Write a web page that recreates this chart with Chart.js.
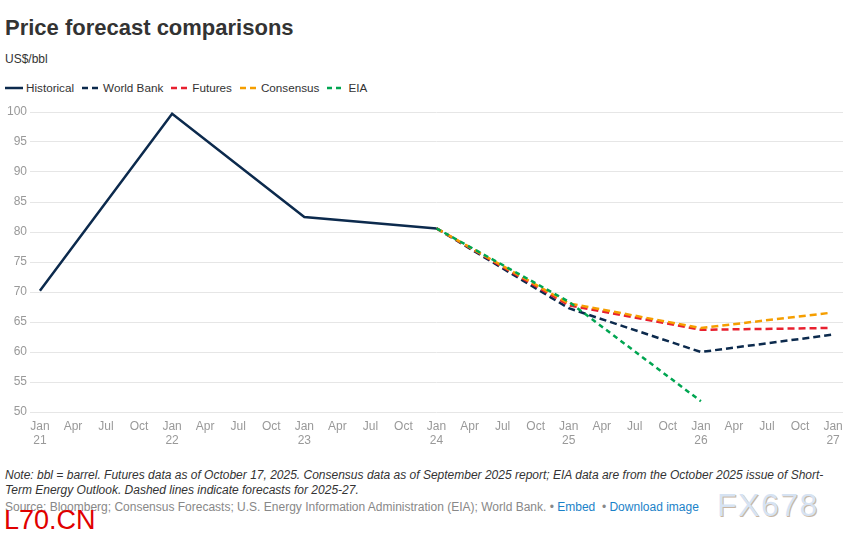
<!DOCTYPE html>
<html>
<head>
<meta charset="utf-8">
<script src="https://cdn.jsdelivr.net/npm/chart.js@4"></script>
<style>
  html, body { margin:0; padding:0; background:#fff; }
  body { width:846px; height:541px; position:relative; overflow:hidden; font-family:"Liberation Sans", Arial, sans-serif; color:#333; }
  .abs { position:absolute; white-space:nowrap; }
  #title { left:5px; top:15px; font-size:22px; font-weight:bold; color:#333; }
  #sub { left:5px; top:52px; font-size:12px; color:#333; }
  #legend { left:5px; top:81px; font-size:11.7px; color:#333; display:flex; align-items:center; }
  #legend .item { display:flex; align-items:center; margin-right:8px; }
  #legend svg { margin-right:3px; }
  #wrap { position:absolute; left:0; top:100px; width:846px; height:350px; }
  #note { left:5px; top:468px; font-size:12px; font-style:italic; color:#333; line-height:15px; }
  #source { left:5px; top:500px; font-size:12px; color:#888; }
  #source a { color:#1a82c8; text-decoration:none; }
  #wm1 { left:4px; top:505px; font-size:27px; color:#e00000; }
  #wm2 { left:717px; top:487px; font-size:32px; color:#d6e3f3; letter-spacing:1.5px; text-shadow:1px 1px 0 #c8b6a4; }
</style>
</head>
<body>
<div id="title" class="abs">Price forecast comparisons</div>
<div id="sub" class="abs">US$/bbl</div>
<div id="legend" class="abs"></div>
<div id="wrap"><canvas id="c" width="846" height="350"></canvas></div>
<div id="note" class="abs">Note: bbl = barrel. Futures data as of October 17, 2025. Consensus data as of September 2025 report; EIA data are from the October 2025 issue of Short-<br>Term Energy Outlook. Dashed lines indicate forecasts for 2025-27.</div>
<div id="source" class="abs">Source: Bloomberg; Consensus Forecasts; U.S. Energy Information Administration (EIA); World Bank. • <a>Embed</a> &nbsp;• <a>Download image</a></div>
<div id="wm1" class="abs">L70.CN</div>
<div id="wm2" class="abs">FX678</div>
<script>
// Tick labels every 3 months from Jan 2021 to Jan 2027 (x = months since Jan 2021)
const tickLabels = [["Jan","21"],"Apr","Jul","Oct",["Jan","22"],"Apr","Jul","Oct",["Jan","23"],"Apr","Jul","Oct",["Jan","24"],"Apr","Jul","Oct",["Jan","25"],"Apr","Jul","Oct",["Jan","26"],"Apr","Jul","Oct",["Jan","27"]];
const yTicks = [50,55,60,65,70,75,80,85,90,95,100];

const historicalX = [0, 12, 24, 36];
const historicalY = [70.2, 99.7, 82.5, 80.6];
const worldBankX = [36, 48, 60, 72];
const worldBankY = [80.6, 67.3, 60.0, 62.9];
const futuresX = [36, 48, 60, 71.6];
const futuresY = [80.6, 67.8, 63.7, 64.0];
const consensusX = [36, 48, 60, 71.6];
const consensusY = [80.6, 68.1, 64.0, 66.5];
const eiaX = [36, 48, 60];
const eiaY = [80.6, 68.4, 51.8];

const names = ["Historical","World Bank","Futures","Consensus","EIA"];
const colors = ["#0c2a4d","#0c2a4d","#e8202f","#f59e00","#00a551"];
const dashes = [[],[7,4],[7,4],[7,4],[5,4]];

const pts = (xs, ys) => xs.map((x,i)=>({x:x, y:ys[i]}));
const series = [pts(historicalX,historicalY), pts(worldBankX,worldBankY), pts(futuresX,futuresY), pts(consensusX,consensusY), pts(eiaX,eiaY)];

// legend
const lg = document.getElementById('legend');
names.forEach((n,i)=>{
  const d = document.createElement('div'); d.className='item';
  const da = dashes[i].length ? 'stroke-dasharray="'+(i===4?'5,4':'6,4')+'"' : '';
  d.innerHTML = '<svg width="18" height="4"><line x1="0" y1="2" x2="18" y2="2" stroke="'+colors[i]+'" stroke-width="2.5" '+da+'/></svg>'+n;
  lg.appendChild(d);
});

const datasets = series.map((data,i)=>({
  label: names[i], data: data, borderColor: colors[i], backgroundColor: colors[i],
  borderWidth: 2.5, borderDash: dashes[i], pointRadius: 0, tension: 0, fill: false,
  order: [1,5,4,3,2][i]
}));

new Chart(document.getElementById('c'), {
  type: 'line',
  data: { datasets: datasets },
  options: {
    responsive: false, animation: false,
    layout: { padding: { top: 12, right: 0, left: 0, bottom: 0 } },
    plugins: { legend: { display:false }, tooltip: { enabled:false } },
    scales: {
      x: {
        type: 'linear', min: -0.9, max: 72.9,
        afterBuildTicks: (s) => { s.ticks = tickLabels.map((_,i)=>({value:i*3})); },
        afterFit: (s) => { s.height = 38; s.paddingRight = 3; s.paddingLeft = 0; },
        grid: { display:false, drawTicks:false },
        border: { display:false },
        ticks: { autoSkip:false, maxRotation:0, padding: 7, color:'#999', font:{ family:'"Liberation Sans", Arial', size:12 },
          callback: (v) => tickLabels[Math.round(v/3)] }
      },
      y: {
        min: 50, max: 100,
        afterBuildTicks: (s) => { s.ticks = yTicks.map(v=>({value:v})); },
        afterFit: (s) => { s.width = 30; },
        grid: { color:'#e6e6e6', drawTicks:false, lineWidth:1 },
        border: { display:false },
        ticks: { padding: 3, color:'#999', font:{ family:'"Liberation Sans", Arial', size:12 } }
      }
    }
  }
});
</script>
</body>
</html>
